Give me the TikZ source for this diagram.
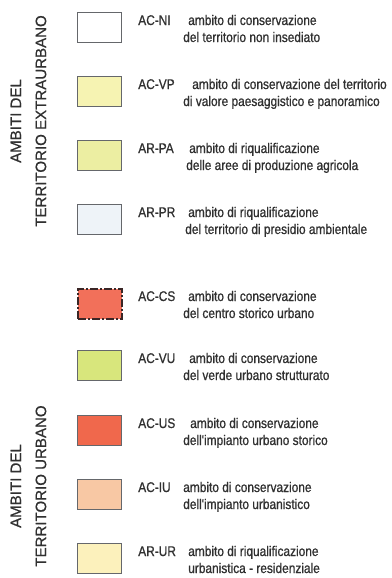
\documentclass[tikz,border=0pt]{standalone}
\usepackage{fontspec}
\setmainfont{Liberation Sans}
\newfontfamily\legendfont[FakeStretch=0.85,FakeBold=0.9]{Liberation Sans}
\newfontfamily\headfont[FakeBold=0.6]{Liberation Sans}
\definecolor{LegInk}{HTML}{303030}
\definecolor{SwGrey}{HTML}{65676B}
\definecolor{CsEdge}{HTML}{3A2626}
\definecolor{FillNI}{HTML}{FFFFFF}
\definecolor{FillVP}{HTML}{F6F3B2}
\definecolor{FillPA}{HTML}{ECEEA2}
\definecolor{FillPR}{HTML}{EEF3F8}
\definecolor{FillCS}{HTML}{F2705A}
\definecolor{FillVU}{HTML}{D8E67C}
\definecolor{FillUS}{HTML}{F0684C}
\definecolor{FillIU}{HTML}{F8C8A4}
\definecolor{FillUR}{HTML}{FCF1BC}

\begin{document}
\begin{tikzpicture}[x=0.75pt,y=-0.75pt,
  swatch/.style={draw=SwGrey,line width=1.1pt,minimum width=33pt,minimum height=22.5pt,inner sep=0pt,anchor=north west},
  code/.style={anchor=base west,inner sep=0pt,text=LegInk,font=\legendfont\fontsize{10.5}{12}\selectfont},
  heading/.style={rotate=90,align=center,inner sep=0pt,text=LegInk,font=\headfont\fontsize{11.3}{18.8}\selectfont}]
\useasboundingbox (0,0) rectangle (392,578);
% territorio extraurbano
\node[heading] (extra) at (28.5,121) {AMBITI DEL\\TERRITORIO EXTRAURBANO};
\node[swatch,fill=FillNI] (ni) at (77,12) {};
\node[code] (ni-code) at (138,25) {AC-NI};
\node[code] (ni-a) at (188,25) {ambito di conservazione};
\node[code] (ni-b) at (183,42) {del territorio non insediato};
\node[swatch,fill=FillVP] (vp) at (77,76) {};
\node[code] (vp-code) at (138,89) {AC-VP};
\node[code] (vp-a) at (192,89) {ambito di conservazione del territorio};
\node[code] (vp-b) at (183,106) {di valore paesaggistico e panoramico};
\node[swatch,fill=FillPA] (pa) at (77,140) {};
\node[code] (pa-code) at (138,153) {AR-PA};
\node[code] (pa-a) at (189,153) {ambito di riqualificazione};
\node[code] (pa-b) at (186,170) {delle aree di produzione agricola};
\node[swatch,fill=FillPR] (pr) at (77,204) {};
\node[code] (pr-code) at (138,217) {AR-PR};
\node[code] (pr-a) at (188,217) {ambito di riqualificazione};
\node[code] (pr-b) at (185,234) {del territorio di presidio ambientale};
% territorio urbano
\node[heading] (urb) at (28.5,486) {AMBITI DEL\\TERRITORIO URBANO};
\node[swatch,fill=FillCS,draw=CsEdge,line width=1.6pt,dash pattern=on 6pt off 1.5pt on 1.5pt off 1.5pt] (cs) at (77,288) {};
\node[code] (cs-code) at (138,301) {AC-CS};
\node[code] (cs-a) at (188,301) {ambito di conservazione};
\node[code] (cs-b) at (183,318) {del centro storico urbano};
\node[swatch,fill=FillVU] (vu) at (77,350) {};
\node[code] (vu-code) at (138,363) {AC-VU};
\node[code] (vu-a) at (189,363) {ambito di conservazione};
\node[code] (vu-b) at (183,380) {del verde urbano strutturato};
\node[swatch,fill=FillUS] (us) at (77,415) {};
\node[code] (us-code) at (138,428) {AC-US};
\node[code] (us-a) at (190,428) {ambito di conservazione};
\node[code] (us-b) at (183,445) {dell'impianto urbano storico};
\node[swatch,fill=FillIU] (iu) at (77,479) {};
\node[code] (iu-code) at (138,492) {AC-IU};
\node[code] (iu-a) at (183,492) {ambito di conservazione};
\node[code] (iu-b) at (183,509) {dell'impianto urbanistico};
\node[swatch,fill=FillUR] (ur) at (77,543) {};
\node[code] (ur-code) at (138,556) {AR-UR};
\node[code] (ur-a) at (188,556) {ambito di riqualificazione};
\node[code] (ur-b) at (188,573) {urbanistica - residenziale};
\end{tikzpicture}
\end{document}
